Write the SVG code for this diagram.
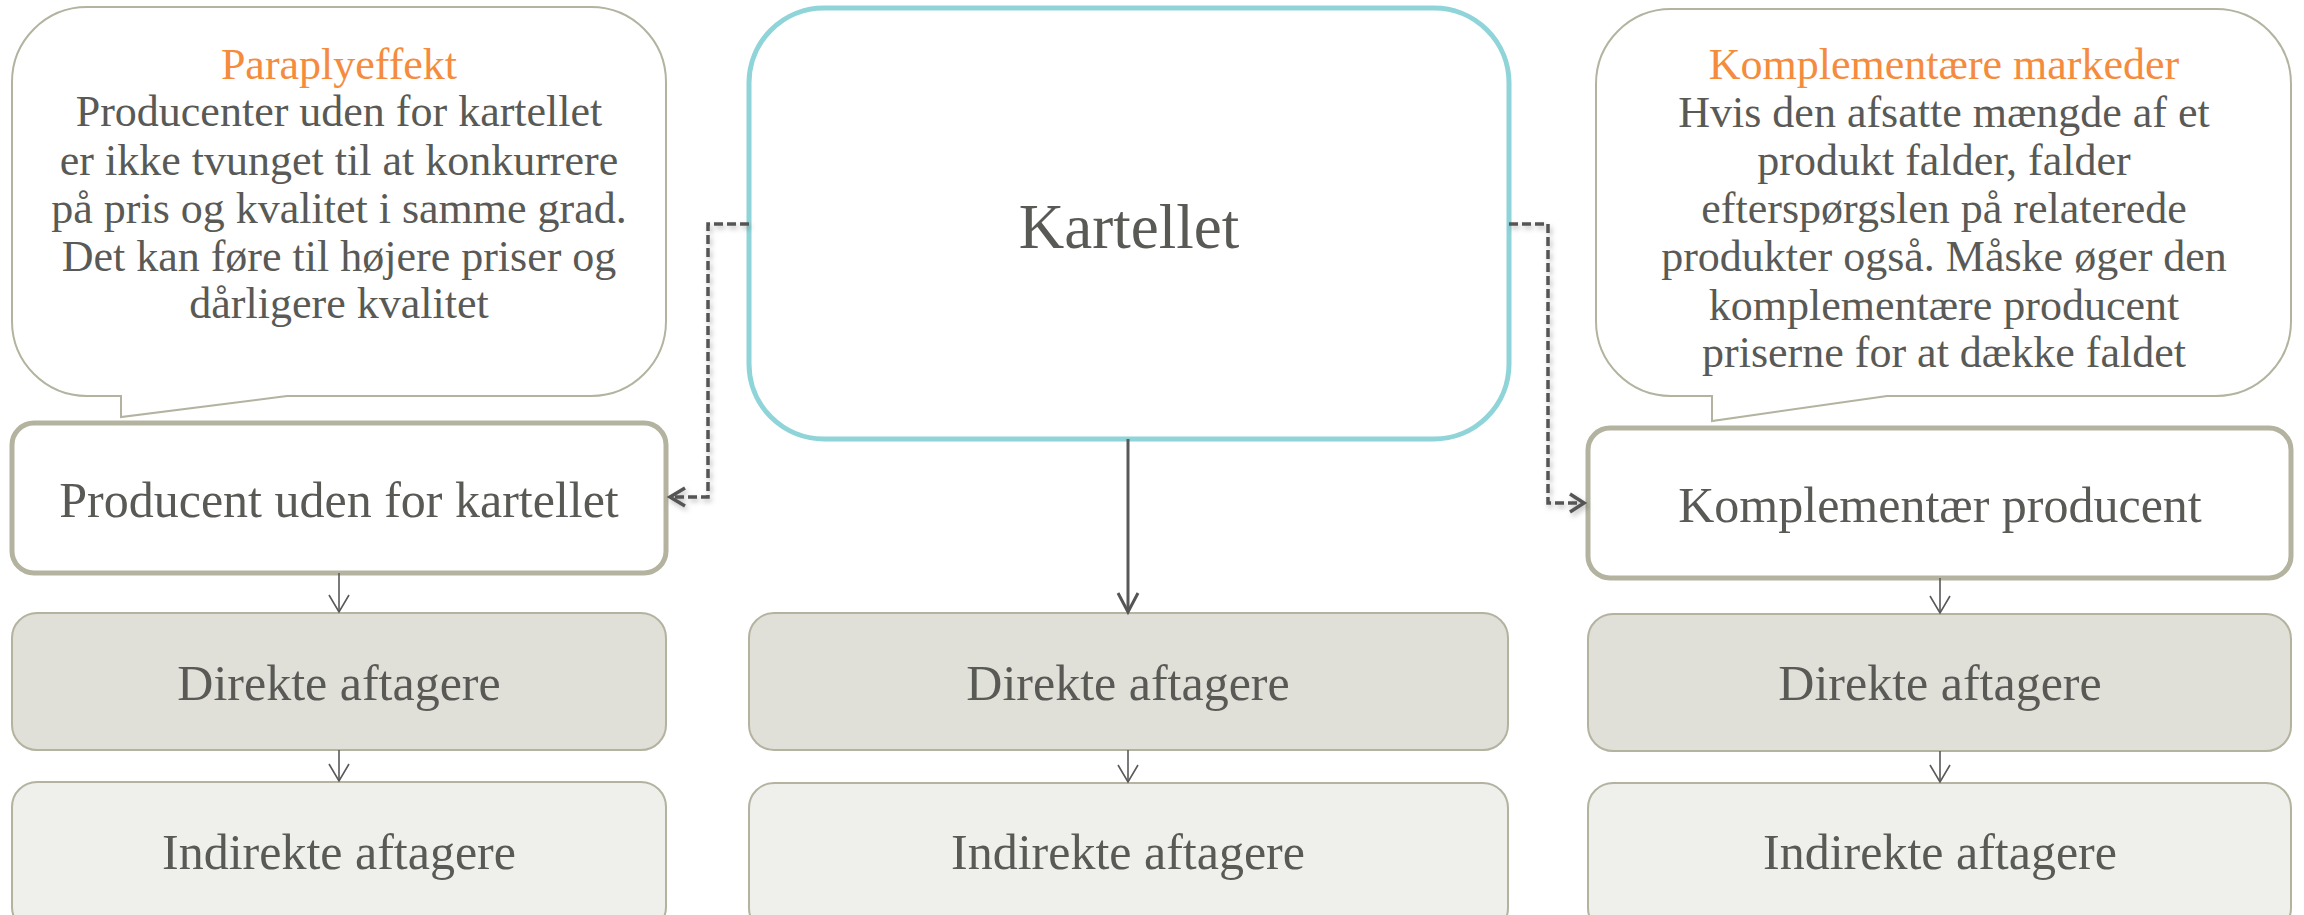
<svg xmlns="http://www.w3.org/2000/svg" width="2304" height="915" viewBox="0 0 2304 915">
<defs>
<style>
.t{font-family:"Liberation Serif","Times New Roman",serif;fill:#595955;text-anchor:middle}
.h{fill:#f58b3c}
.call{fill:#fff;stroke:#b3b3a0;stroke-width:2}
.prod{fill:#fff;stroke:#b3b3a0;stroke-width:5}
.dir{fill:#e0dfd8;stroke:#b3b3a0;stroke-width:2}
.ind{fill:#efefeb;stroke:#b3b3a0;stroke-width:2}
.thin{fill:none;stroke:#595959;stroke-width:1.6}
.solid{fill:none;stroke:#595959;stroke-width:3}
.dash{fill:none;stroke:#555;stroke-width:3.5;stroke-dasharray:9 4}
.head{fill:none;stroke:#555;stroke-width:3.5;stroke-linejoin:miter}
.headthin{fill:none;stroke:#595959;stroke-width:1.6}
</style>
<filter id="sh" x="-20%" y="-20%" width="140%" height="140%">
<feDropShadow dx="2" dy="3" stdDeviation="2.5" flood-color="#000" flood-opacity="0.25"/>
</filter>
</defs>

<g id="callout-left">
<path class="call" d="M87,7 H591 A75,75 0 0 1 666,82 V321 A75,75 0 0 1 591,396 H287 L121,417 V396 H87 A75,75 0 0 1 12,321 V82 A75,75 0 0 1 87,7 Z"/>
<text class="t h" x="339" y="79" font-size="44">Paraplyeffekt</text>
<text class="t" x="339" y="126" font-size="44">Producenter uden for kartellet</text>
<text class="t" x="339" y="175" font-size="44">er ikke tvunget til at konkurrere</text>
<text class="t" x="339" y="223" font-size="44">på pris og kvalitet i samme grad.</text>
<text class="t" x="339" y="271" font-size="44">Det kan føre til højere priser og</text>
<text class="t" x="339" y="318" font-size="44">dårligere kvalitet</text>
</g>

<g id="callout-right">
<path class="call" d="M1671,9 H2216 A75,75 0 0 1 2291,84 V321 A75,75 0 0 1 2216,396 H1887 L1712,421 V396 H1671 A75,75 0 0 1 1596,321 V84 A75,75 0 0 1 1671,9 Z"/>
<text class="t h" x="1944" y="79" font-size="44">Komplementære markeder</text>
<text class="t" x="1944" y="127" font-size="44">Hvis den afsatte mængde af et</text>
<text class="t" x="1944" y="175" font-size="44">produkt falder, falder</text>
<text class="t" x="1944" y="223" font-size="44">efterspørgslen på relaterede</text>
<text class="t" x="1944" y="271" font-size="44">produkter også. Måske øger den</text>
<text class="t" x="1944" y="320" font-size="44">komplementære producent</text>
<text class="t" x="1944" y="367" font-size="44">priserne for at dække faldet</text>
</g>

<g id="kartellet">
<rect x="749" y="8" width="760" height="431" rx="75" ry="75" fill="#fff" stroke="#8fd4d8" stroke-width="5"/>
<text class="t" x="1129" y="248" font-size="63">Kartellet</text>
</g>

<g id="producent-uden">
<rect class="prod" x="12" y="423" width="654" height="150" rx="22" ry="22"/>
<text class="t" x="339" y="517" font-size="50">Producent uden for kartellet</text>
</g>

<g id="komplementaer-producent">
<rect class="prod" x="1588" y="428" width="703" height="150" rx="22" ry="22"/>
<text class="t" x="1940" y="522" font-size="50">Komplementær producent</text>
</g>

<g id="direkte-left">
<rect class="dir" x="12" y="613" width="654" height="137" rx="25" ry="25"/>
<text class="t" x="339" y="700" font-size="50">Direkte aftagere</text>
</g>
<g id="direkte-center">
<rect class="dir" x="749" y="613" width="759" height="137" rx="25" ry="25"/>
<text class="t" x="1128" y="700" font-size="50">Direkte aftagere</text>
</g>
<g id="direkte-right">
<rect class="dir" x="1588" y="614" width="703" height="137" rx="25" ry="25"/>
<text class="t" x="1940" y="700" font-size="50">Direkte aftagere</text>
</g>

<g id="indirekte-left">
<rect class="ind" x="12" y="782" width="654" height="150" rx="25" ry="25"/>
<text class="t" x="339" y="869" font-size="50">Indirekte aftagere</text>
</g>
<g id="indirekte-center">
<rect class="ind" x="749" y="783" width="759" height="150" rx="25" ry="25"/>
<text class="t" x="1128" y="869" font-size="50">Indirekte aftagere</text>
</g>
<g id="indirekte-right">
<rect class="ind" x="1588" y="783" width="703" height="150" rx="25" ry="25"/>
<text class="t" x="1940" y="869" font-size="50">Indirekte aftagere</text>
</g>

<g id="connectors">
<g filter="url(#sh)">
<path class="dash" d="M749,224 H708 V497 H672"/>
<path class="head" d="M685,488 L670,497 L685,506"/>
<path class="dash" d="M1509,224 H1548 V503 H1582"/>
<path class="head" d="M1570,494 L1584,503 L1570,512"/>
</g>
<path class="solid" d="M1128,439 V610"/>
<path class="head" d="M1118,593 L1128,612 L1138,593" style="stroke-width:3"/>
<path class="thin" d="M339,573 V612"/>
<path class="headthin" d="M329,595 L339,612 L349,595"/>
<path class="thin" d="M339,750 V781"/>
<path class="headthin" d="M329,764 L339,781 L349,764"/>
<path class="thin" d="M1128,750 V782"/>
<path class="headthin" d="M1118,765 L1128,782 L1138,765"/>
<path class="thin" d="M1940,578 V613"/>
<path class="headthin" d="M1930,596 L1940,613 L1950,596"/>
<path class="thin" d="M1940,751 V782"/>
<path class="headthin" d="M1930,765 L1940,782 L1950,765"/>
</g>
</svg>
